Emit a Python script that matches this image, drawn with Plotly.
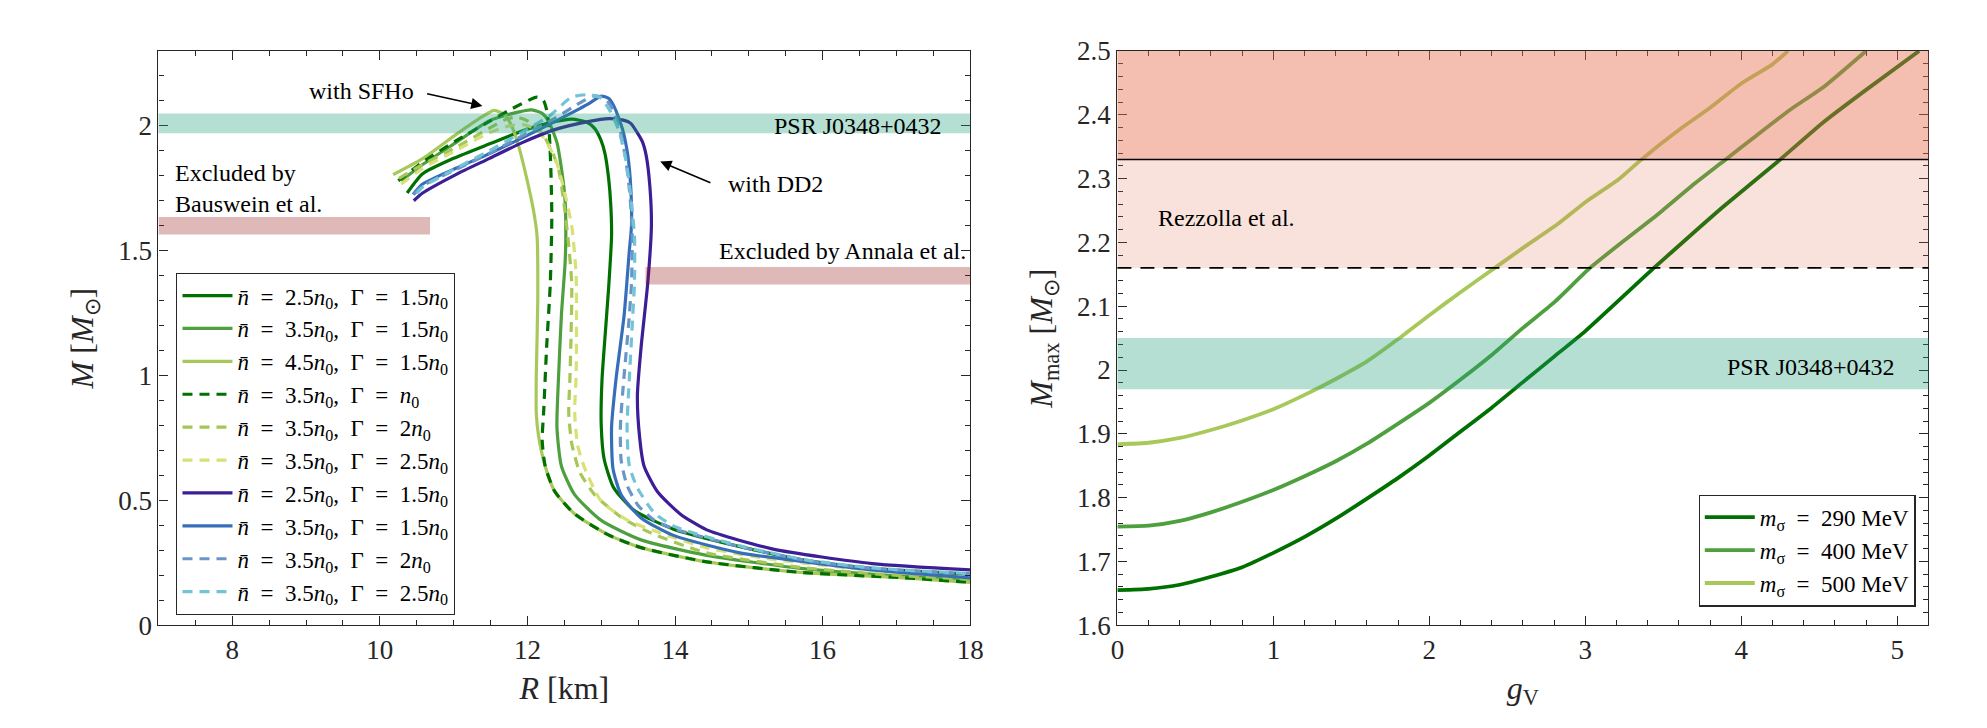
import plotly.graph_objects as go

# ---------------- Left panel data: mass-radius curves (R in km, M in Msun) ----------------
R_sfho_25_15 = [10.37, 10.58, 11.0, 11.48, 12.0, 12.3, 12.6, 12.8, 12.91, 13.0, 13.05, 13.1, 13.13, 13.14, 13.1, 13.05, 13.01, 13.0, 13.04, 13.17, 13.45, 13.98, 14.88, 15.77, 16.67, 18.0]
M_sfho_25_15 = [1.731, 1.808, 1.87, 1.927, 1.987, 2.012, 2.027, 2.015, 1.99, 1.94, 1.89, 1.79, 1.68, 1.56, 1.35, 1.15, 0.98, 0.8, 0.665, 0.55, 0.459, 0.385, 0.315, 0.26, 0.228, 0.205]

R_sfho_35_15 = [10.29, 10.58, 11.03, 11.48, 11.8, 12.06, 12.2, 12.28, 12.4, 12.46, 12.51, 12.52, 12.51, 12.46, 12.42, 12.4, 12.46, 12.64, 13.0, 13.54, 14.43, 15.7, 16.9, 18.0]
M_sfho_35_15 = [1.78, 1.845, 1.933, 2.02, 2.05, 2.064, 2.05, 2.023, 1.933, 1.831, 1.703, 1.56, 1.45, 1.241, 0.985, 0.792, 0.638, 0.523, 0.42, 0.342, 0.28, 0.228, 0.2, 0.183]

R_sfho_45_15 = [10.18, 10.58, 11.03, 11.3, 11.55, 11.7, 11.8, 11.88, 11.99, 12.08, 12.13, 12.14, 12.12, 12.12, 12.15, 12.24, 12.37, 12.64, 13.09, 13.54, 14.43, 15.7, 17.11, 18.0]
M_sfho_45_15 = [1.805, 1.869, 1.965, 2.02, 2.062, 2.042, 1.99, 1.92, 1.79, 1.665, 1.56, 1.3, 1.0, 0.85, 0.76, 0.638, 0.536, 0.446, 0.363, 0.311, 0.254, 0.212, 0.19, 0.172]

R_sfho_35_10 = [10.25, 10.58, 11.03, 11.48, 11.8, 12.13, 12.22, 12.27, 12.3, 12.32, 12.33, 12.31, 12.26, 12.22, 12.2, 12.24, 12.37, 12.64, 13.09, 13.54, 14.43, 15.7, 17.11, 18.0]
M_sfho_35_10 = [1.78, 1.855, 1.94, 2.017, 2.07, 2.115, 2.1, 2.05, 1.95, 1.8, 1.63, 1.37, 1.113, 0.856, 0.74, 0.638, 0.536, 0.446, 0.363, 0.311, 0.254, 0.212, 0.19, 0.172]

R_sfho_35_20 = [10.26, 10.58, 11.03, 11.48, 11.7, 11.85, 12.0, 12.2, 12.33, 12.42, 12.49, 12.55, 12.6, 12.59, 12.575, 12.56, 12.6, 12.71, 12.91, 13.27, 13.67, 14.43, 15.7, 16.9, 18.0]
M_sfho_35_20 = [1.79, 1.845, 1.914, 1.99, 2.025, 2.035, 2.02, 1.97, 1.9, 1.83, 1.7, 1.55, 1.37, 1.15, 0.985, 0.85, 0.728, 0.613, 0.523, 0.433, 0.37, 0.29, 0.232, 0.202, 0.184]

R_sfho_35_25 = [10.29, 10.58, 11.03, 11.48, 11.75, 11.95, 12.15, 12.31, 12.4, 12.49, 12.6, 12.66, 12.665, 12.66, 12.64, 12.68, 12.78, 13.0, 13.36, 13.8, 14.43, 15.3, 16.5, 18.0]
M_sfho_35_25 = [1.767, 1.83, 1.901, 1.972, 2.0, 2.005, 1.98, 1.908, 1.85, 1.75, 1.6, 1.4, 1.2, 1.0, 0.856, 0.72, 0.626, 0.497, 0.42, 0.37, 0.31, 0.265, 0.225, 0.19]

R_dd2_25_15 = [10.46, 10.58, 11.03, 11.48, 11.93, 12.37, 12.82, 13.1, 13.3, 13.4, 13.49, 13.56, 13.61, 13.66, 13.68, 13.63, 13.54, 13.49, 13.52, 13.58, 13.76, 14.07, 14.43, 15.33, 16.67, 18.0]
M_dd2_25_15 = [1.70, 1.731, 1.805, 1.869, 1.933, 1.985, 2.017, 2.029, 2.023, 2.01, 1.972, 1.935, 1.88, 1.754, 1.6, 1.369, 1.113, 0.92, 0.754, 0.638, 0.536, 0.446, 0.382, 0.305, 0.247, 0.222]

R_dd2_35_15 = [10.45, 10.58, 11.03, 11.48, 11.93, 12.37, 12.82, 13.0, 13.1, 13.18, 13.29, 13.36, 13.4, 13.41, 13.38, 13.31, 13.2, 13.14, 13.16, 13.27, 13.54, 13.98, 14.88, 15.77, 16.67, 18.0]
M_dd2_35_15 = [1.725, 1.767, 1.83, 1.888, 1.952, 2.017, 2.087, 2.119, 2.11, 2.074, 1.985, 1.882, 1.754, 1.6, 1.497, 1.241, 0.985, 0.792, 0.626, 0.523, 0.43, 0.36, 0.29, 0.254, 0.222, 0.19]

R_dd2_35_20 = [10.46, 10.58, 11.03, 11.48, 11.93, 12.37, 12.7, 12.9, 13.05, 13.15, 13.25, 13.33, 13.39, 13.42, 13.41, 13.37, 13.31, 13.26, 13.27, 13.35, 13.5, 13.72, 14.0, 14.88, 15.77, 16.67, 18.0]
M_dd2_35_20 = [1.725, 1.76, 1.825, 1.89, 1.96, 2.03, 2.09, 2.12, 2.11, 2.07, 1.99, 1.87, 1.72, 1.56, 1.37, 1.2, 1.0, 0.8, 0.66, 0.56, 0.48, 0.42, 0.385, 0.315, 0.26, 0.228, 0.205]

R_dd2_35_25 = [10.5, 10.58, 11.03, 11.48, 11.93, 12.3, 12.6, 12.85, 13.0, 13.12, 13.24, 13.33, 13.4, 13.45, 13.45, 13.42, 13.38, 13.35, 13.38, 13.49, 13.72, 14.0, 14.88, 15.77, 16.67, 18.0]
M_dd2_35_25 = [1.73, 1.755, 1.83, 1.9, 1.975, 2.04, 2.115, 2.125, 2.11, 2.06, 1.98, 1.87, 1.72, 1.56, 1.37, 1.2, 0.985, 0.79, 0.64, 0.55, 0.45, 0.395, 0.318, 0.262, 0.23, 0.207]

# ---------------- Right panel data: M_max vs g_V ----------------
g_290 = [0, 0.2, 0.4, 0.6, 0.8, 1.0, 1.2, 1.4, 1.6, 1.8, 2.0, 2.2, 2.4, 2.6, 2.8, 3.0, 3.44, 3.67, 3.88, 4.25, 4.53, 4.8, 5.14]
Mmax_290 = [1.655, 1.657, 1.6635, 1.676, 1.691, 1.7135, 1.7385, 1.767, 1.7985, 1.831, 1.866, 1.9035, 1.941, 1.981, 2.021, 2.061, 2.16, 2.21, 2.255, 2.33, 2.389, 2.439, 2.5]

g_400 = [0, 0.2, 0.4, 0.6, 0.8, 1.0, 1.2, 1.4, 1.6, 1.8, 2.0, 2.2, 2.4, 2.6, 2.8, 3.03, 3.26, 3.47, 3.68, 3.9, 4.1, 4.32, 4.53, 4.8]
Mmax_400 = [1.7545, 1.756, 1.7635, 1.777, 1.7935, 1.812, 1.8335, 1.857, 1.8845, 1.916, 1.9485, 1.985, 2.0235, 2.066, 2.106, 2.16, 2.205, 2.245, 2.288, 2.33, 2.368, 2.409, 2.444, 2.5]

g_500 = [0, 0.2, 0.4, 0.6, 0.8, 1.0, 1.2, 1.4, 1.6, 1.8, 2.0, 2.2, 2.42, 2.61, 2.83, 3.0, 3.21, 3.36, 3.61, 3.8, 4.0, 4.2, 4.3]
Mmax_500 = [1.8835, 1.886, 1.8935, 1.906, 1.921, 1.9385, 1.961, 1.986, 2.0135, 2.0485, 2.086, 2.122, 2.16, 2.193, 2.23, 2.263, 2.298, 2.33, 2.378, 2.411, 2.449, 2.479, 2.5]

# bands / reference values
psr_band = [1.97, 2.05]
bauswein_band = [1.565, 1.635]
bauswein_R = 10.68
annala_band = [1.365, 1.435]
annala_R = 13.6
rezzolla_low = 2.16
rezzolla_high = 2.33

EQ = "\u2002=\u2002"
def nlab(nbar, gam):
    return ("<i>n̄</i>" + EQ + nbar + "<i>n</i><sub>0</sub>,\u2002Γ" + EQ + gam + "<i>n</i><sub>0</sub>")

left_names = [
    nlab("2.5", "1.5"), nlab("3.5", "1.5"), nlab("4.5", "1.5"), nlab("3.5", ""),
    nlab("3.5", "2"), nlab("3.5", "2.5"),
    nlab("2.5", "1.5"), nlab("3.5", "1.5"), nlab("3.5", "2"), nlab("3.5", "2.5"),
]
left_R = [R_sfho_25_15, R_sfho_35_15, R_sfho_45_15, R_sfho_35_10, R_sfho_35_20, R_sfho_35_25,
          R_dd2_25_15, R_dd2_35_15, R_dd2_35_20, R_dd2_35_25]
left_M = [M_sfho_25_15, M_sfho_35_15, M_sfho_45_15, M_sfho_35_10, M_sfho_35_20, M_sfho_35_25,
          M_dd2_25_15, M_dd2_35_15, M_dd2_35_20, M_dd2_35_25]
left_colors = ["#007000", "#4ea03e", "#a8c85a", "#007000", "#a6c656", "#d8e078",
               "#3c1e96", "#376eb9", "#6996c8", "#73c3d7"]
left_dash = ["solid", "solid", "solid", "10px,7px", "10px,7px", "10px,7px",
             "solid", "solid", "10px,7px", "10px,7px"]

right_names = ["<i>m</i><sub>σ</sub>" + EQ + "290 MeV", "<i>m</i><sub>σ</sub>" + EQ + "400 MeV",
               "<i>m</i><sub>σ</sub>" + EQ + "500 MeV"]
right_g = [g_290, g_400, g_500]
right_M = [Mmax_290, Mmax_400, Mmax_500]
right_colors = ["#007000", "#4ea03e", "#a8c85a"]

FONT = "Liberation Serif"
AX = "#262626"

fig = go.Figure()

for i in range(10):
    fig.add_trace(go.Scatter(
        x=left_R[i], y=left_M[i], mode="lines", name=left_names[i],
        line=dict(color=left_colors[i], width=3.2, dash=left_dash[i], shape="spline", smoothing=0.6),
        xaxis="x", yaxis="y", legend="legend"))

for i in range(3):
    fig.add_trace(go.Scatter(
        x=right_g[i], y=right_M[i], mode="lines", name=right_names[i],
        line=dict(color=right_colors[i], width=3.8, shape="spline", smoothing=0.5),
        xaxis="x2", yaxis="y2", legend="legend2"))

shapes = [
    # left panel
    dict(type="rect", xref="x domain", yref="y", x0=0, x1=1, y0=psr_band[0], y1=psr_band[1],
         fillcolor="rgba(27,158,119,0.33)", line_width=0, layer="above"),
    dict(type="rect", xref="x", yref="y", x0=7, x1=bauswein_R, y0=bauswein_band[0], y1=bauswein_band[1],
         fillcolor="rgba(150,20,20,0.3)", line_width=0, layer="above"),
    dict(type="rect", xref="x", yref="y", x0=annala_R, x1=18, y0=annala_band[0], y1=annala_band[1],
         fillcolor="rgba(150,20,20,0.3)", line_width=0, layer="above"),
    # right panel
    dict(type="rect", xref="x2 domain", yref="y2", x0=0, x1=1, y0=psr_band[0], y1=psr_band[1],
         fillcolor="rgba(27,158,119,0.33)", line_width=0, layer="above"),
    dict(type="rect", xref="x2 domain", yref="y2", x0=0, x1=1, y0=rezzolla_low, y1=rezzolla_high,
         fillcolor="rgba(230,112,82,0.2)", line_width=0, layer="above"),
    dict(type="rect", xref="x2 domain", yref="y2", x0=0, x1=1, y0=rezzolla_high, y1=2.5,
         fillcolor="rgba(230,112,82,0.45)", line_width=0, layer="above"),
    dict(type="line", xref="x2 domain", yref="y2", x0=0, x1=1, y0=rezzolla_high, y1=rezzolla_high,
         line=dict(color="black", width=1.5), layer="above"),
    dict(type="line", xref="x2 domain", yref="y2", x0=0, x1=1, y0=rezzolla_low, y1=rezzolla_low,
         line=dict(color="black", width=1.8, dash="14px,9px"), layer="above"),
]

tf = dict(family=FONT, size=24, color="black")
annotations = [
    dict(x=9.75, y=2.138, xref="x", yref="y", text="with SFHo", showarrow=False, font=tf),
    dict(x=11.39, y=2.08, ax=10.62, ay=2.13, xref="x", yref="y", axref="x", ayref="y",
         text="", showarrow=True, arrowhead=2, arrowsize=1.4, arrowwidth=1.6, arrowcolor="black"),
    dict(x=15.36, y=1.767, xref="x", yref="y", text="with DD2", showarrow=False, font=tf),
    dict(x=13.8, y=1.857, ax=14.5, ay=1.77, xref="x", yref="y", axref="x", ayref="y",
         text="", showarrow=True, arrowhead=2, arrowsize=1.4, arrowwidth=1.6, arrowcolor="black"),
    dict(x=7.2, y=1.75, xref="x", yref="y", text="Excluded by<br>Bauswein et al.", showarrow=False,
         xanchor="left", align="left", font=tf),
    dict(x=14.57, y=1.497, xref="x", yref="y", text="Excluded by Annala et al.", showarrow=False,
         xanchor="left", font=tf),
    dict(x=17.65, y=2.0, xref="x", yref="y", text="PSR J0348+0432", showarrow=False,
         xanchor="right", font=tf),
    dict(x=0.25, y=2.238, xref="x2", yref="y2", text="Rezzolla et al.", showarrow=False,
         xanchor="left", font=tf),
    dict(x=5.0, y=2.005, xref="x2", yref="y2", text="PSR J0348+0432", showarrow=False,
         xanchor="right", font=tf),
]

def axis_style(**kw):
    d = dict(showline=True, linecolor=AX, linewidth=1.3, mirror="allticks", ticks="inside",
             ticklen=9, tickwidth=1.3, tickcolor=AX, showgrid=False, zeroline=False,
             tickfont=dict(family=FONT, size=27, color=AX))
    d.update(kw)
    return d

fig.update_layout(
    width=1987, height=728, margin=dict(l=0, r=0, t=0, b=0),
    paper_bgcolor="white", plot_bgcolor="white",
    font=dict(family=FONT, color="black"),
    xaxis=axis_style(domain=[153/1987, 973/1987], range=[7, 18], dtick=2, tick0=0,
                     minor=dict(ticks="inside", ticklen=5, dtick=0.5, tickcolor=AX, tickwidth=1.2),
                     title=dict(text="<i>R</i> [km]", font=dict(family=FONT, size=32, color=AX), standoff=12),
                     anchor="y"),
    yaxis=axis_style(domain=[91.5/728, 690.5/728], range=[0, 2.3], dtick=0.5,
                     minor=dict(ticks="inside", ticklen=5, dtick=0.1, tickcolor=AX, tickwidth=1.2),
                     title=dict(text="<i>M</i> [<i>M</i><sub>⊙</sub>]", font=dict(family=FONT, size=32, color=AX), standoff=14),
                     anchor="x"),
    xaxis2=axis_style(domain=[1121.7/1987, 1941/1987], range=[0, 5.2], dtick=1, tick0=0,
                      minor=dict(ticks="inside", ticklen=5, dtick=0.2, tickcolor=AX, tickwidth=1.2),
                      title=dict(text="<i>g</i><sub>V</sub>", font=dict(family=FONT, size=32, color=AX), standoff=12),
                      anchor="y2"),
    yaxis2=axis_style(domain=[91.5/728, 690.5/728], range=[1.6, 2.5], dtick=0.1, tick0=1.6,
                      minor=dict(ticks="inside", ticklen=5, dtick=0.02, tickcolor=AX, tickwidth=1.2),
                      title=dict(text="<i>M</i><sub>max</sub> [<i>M</i><sub>⊙</sub>]", font=dict(family=FONT, size=32, color=AX), standoff=14),
                      anchor="x2"),
    legend=dict(x=171/1987, y=(728-269)/728, xanchor="left", yanchor="top",
                bordercolor="#262626", borderwidth=1.2, bgcolor="white",
                font=dict(family=FONT, size=23, color="black"), itemwidth=50, tracegroupgap=0),
    legend2=dict(x=1928/1987, y=(728-617)/728, xanchor="right", yanchor="bottom",
                 bordercolor="#262626", borderwidth=1.2, bgcolor="white",
                 font=dict(family=FONT, size=23, color="black"), itemwidth=50),
    shapes=shapes, annotations=annotations, showlegend=True,
)

fig.write_html("out.html")
